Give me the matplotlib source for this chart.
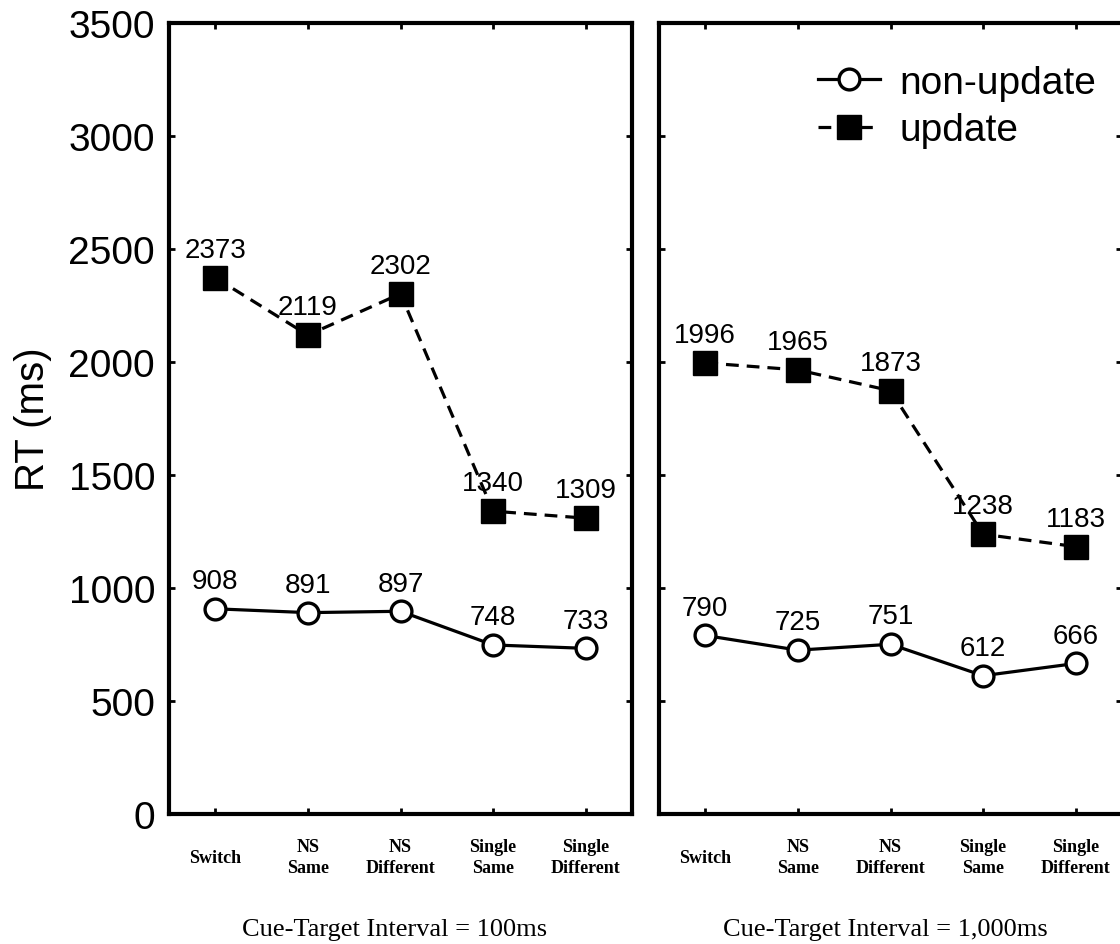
import matplotlib.pyplot as plt

conds = ["Switch", "NS\nSame", "NS\nDifferent", "Single\nSame", "Single\nDifferent"]
nonupd_100 = [908, 891, 897, 748, 733]
upd_100 = [2373, 2119, 2302, 1340, 1309]
nonupd_1000 = [790, 725, 751, 612, 666]
upd_1000 = [1996, 1965, 1873, 1238, 1183]
titles = ["Cue-Target Interval = 100ms", "Cue-Target Interval = 1,000ms"]

sans = "Liberation Sans"
serif = "Liberation Serif"

fig = plt.figure(figsize=(11.2, 9.45), dpi=100)
ax1 = fig.add_axes([169/1120, 130/945, 463/1120, 791/945])
ax2 = fig.add_axes([659/1120, 130/945, 463/1120, 791/945])

for ax, nu, up, title in [(ax1, nonupd_100, upd_100, titles[0]),
                          (ax2, nonupd_1000, upd_1000, titles[1])]:
    x = range(len(conds))
    ax.plot(x, nu, color="black", lw=2.3, marker="o", ms=15, mfc="white",
            mec="black", mew=2.4, label="non-update", zorder=3)
    ax.plot(x, up, color="black", lw=2.3, ls=(0, (4, 2.5)), marker="s", ms=17,
            mfc="black", mec="black", label="update", zorder=3)
    for xi, v in zip(x, nu):
        ax.annotate(str(v), (xi, v), xytext=(0, 20), textcoords="offset points",
                    ha="center", va="center", fontsize=20, family=sans)
    for xi, v in zip(x, up):
        ax.annotate(str(v), (xi, v), xytext=(0, 20), textcoords="offset points",
                    ha="center", va="center", fontsize=20, family=sans)
    ax.set_xlim(-0.5, 4.5)
    ax.set_ylim(0, 3500)
    ax.set_yticks(range(0, 3501, 500))
    ax.set_xticks(list(x))
    ax.set_xticklabels(conds, family=serif, fontweight="bold", fontsize=13,
                       linespacing=1.25)
    for lab in ax.get_xticklabels():
        lab.set_verticalalignment("center")
    ax.tick_params(axis="x", direction="in", length=4, width=2, top=True, pad=31)
    ax.tick_params(axis="y", direction="in", length=4, width=2, right=True, pad=10,
                   labelsize=28)
    for sp in ax.spines.values():
        sp.set_linewidth(3)
    cx = (ax.get_position().x0 + ax.get_position().x1) / 2
    fig.text(cx - 0.005, 15/945, title, ha="center", va="center", fontsize=19, family=serif)

for lab in ax1.get_yticklabels():
    lab.set_family(sans)
ax2.set_yticklabels([])
ax1.set_ylabel("RT (ms)", fontsize=29, family=sans, labelpad=12)

ax2.legend(loc="upper right", bbox_to_anchor=(0.978, 0.967), frameon=False,
           prop={"family": sans, "size": 28}, handlelength=1.6, handletextpad=0.5,
           labelspacing=0.3, borderaxespad=0)

fig.savefig("out.png", dpi=100)
